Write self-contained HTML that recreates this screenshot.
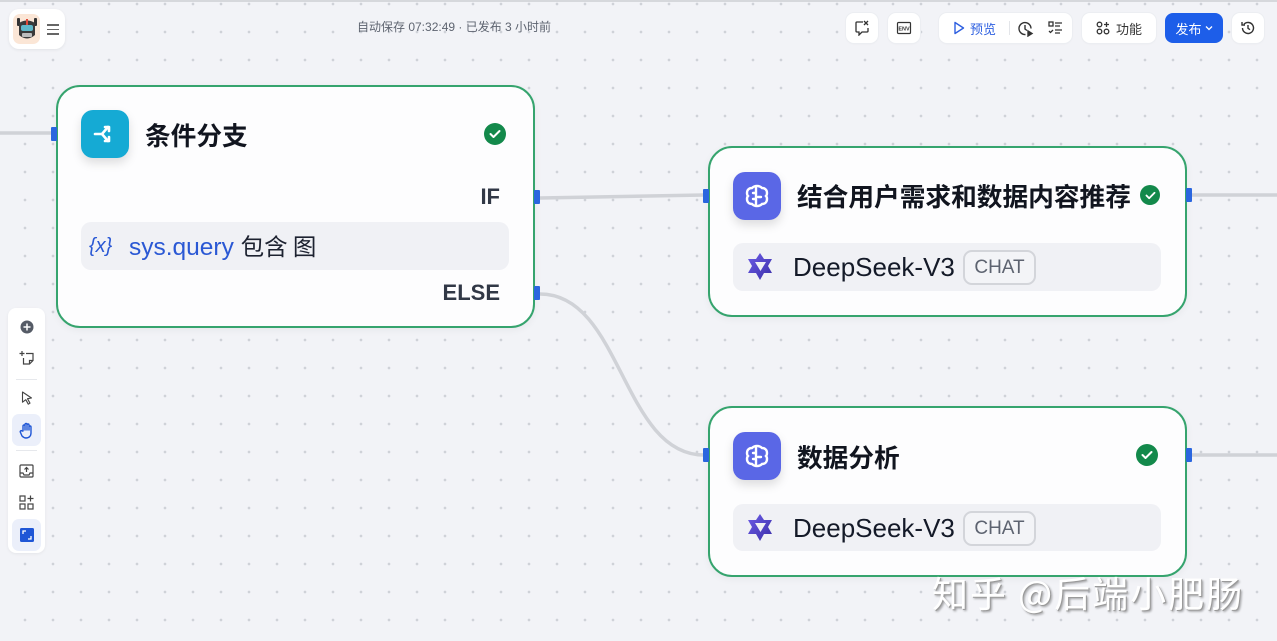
<!DOCTYPE html>
<html><head><meta charset="utf-8">
<style>
*{margin:0;padding:0;box-sizing:border-box}
html,body{width:1277px;height:641px;overflow:hidden}
body{position:relative;background-color:#f2f3f7;
background-image:radial-gradient(circle at center,#cfd2d8 0 1.1px,transparent 1.6px);
background-size:28px 28px;background-position:11px 18px;
font-family:"Liberation Sans","Noto Sans CJK SC",sans-serif;color:#1c2230}
.abs{position:absolute}
.topline{left:0;top:0;width:1277px;height:2px;background:#d6d8dc}
.btn{position:absolute;top:13px;height:30px;background:#fff;border-radius:8px;box-shadow:0 0 0 1px #eceef2,0 1px 2px rgba(0,0,0,.04);display:flex;align-items:center;justify-content:center;font-size:13px;color:#333}
.node{position:absolute;background:#fdfdfe;border:2px solid #36a46e;border-radius:24px;box-shadow:0 2px 8px rgba(0,0,0,.05)}
.icon{position:absolute;width:48px;height:48px;border-radius:12px;box-shadow:0 5px 10px rgba(0,0,0,.13);display:flex;align-items:center;justify-content:center}
.title{position:absolute;font-family:"Noto Sans CJK SC","WenQuanYi Zen Hei",sans-serif;font-weight:700;font-size:25.7px;line-height:30px;color:#11151f;white-space:nowrap}
.check{position:absolute;width:22px;height:22px;border-radius:50%;background:#13894b;display:flex;align-items:center;justify-content:center}
.handle{position:absolute;width:6px;height:14px;background:#2a66df;border-radius:1px}
.box{position:absolute;background:#f0f1f5;border-radius:10px}
.model{position:absolute;font-size:26px;line-height:30px;color:#141a28;white-space:nowrap}
.chat{position:absolute;width:73px;height:35px;border:2px solid #d3d5da;border-radius:9px;font-size:19px;color:#5d6370;display:flex;align-items:center;justify-content:center;background:#f3f4f7}
.lbl{position:absolute;font-weight:700;font-size:22px;color:#313846;right:0;text-align:right}
.tb{position:absolute;left:8px;top:308px;width:37px;height:245px;background:#fff;border-radius:8px;box-shadow:0 1px 3px rgba(0,0,0,.06)}
.ti{position:absolute;left:4px;width:29px;height:29px;display:flex;align-items:center;justify-content:center;border-radius:7px}
</style></head><body>
<div class="abs topline"></div>

<svg class="abs" style="left:0;top:0" width="1277" height="641">
<g fill="none" stroke="#d0d2d7" stroke-width="3.5" stroke-linecap="round">
<path d="M0 133 L52 133"/>
<path d="M540 198 L704 195"/>
<path d="M540 294 C622 294 622 455 704 455"/>
<path d="M1190 195 L1277 195"/>
<path d="M1190 455 L1277 455"/>
</g>
</svg>

<div class="abs" style="left:9px;top:9px;width:56px;height:40px;background:#fff;border-radius:10px;box-shadow:0 1px 3px rgba(0,0,0,.07)"></div>
<div class="abs" style="left:13px;top:14px;width:27px;height:30px;border-radius:7px;background:#fbe6d6"></div>
<svg class="abs" style="left:14px;top:15px" width="26" height="28" viewBox="0 0 26 28">
<rect x="3" y="3" width="3" height="8" rx="1" fill="#333"/><rect x="20" y="3" width="3" height="8" rx="1" fill="#333"/>
<path d="M5 8 Q13 3 21 8 L21 20 Q13 27 5 20Z" fill="#3a3a3a"/>
<rect x="7" y="10" width="12" height="6" rx="2" fill="#5fb8c9"/>
<rect x="12" y="4" width="2" height="6" fill="#e04a3a"/>
<rect x="8" y="18" width="10" height="4" rx="1" fill="#bdbdbd"/>
</svg>
<div class="abs" style="left:47px;top:23px;width:12px;height:12px">
<div style="height:1.5px;background:#666;margin-top:1px"></div><div style="height:1.5px;background:#666;margin-top:3px"></div><div style="height:1.5px;background:#666;margin-top:3px"></div>
</div>

<div class="abs" style="left:357px;top:19px;font-size:12px;line-height:16px;color:#5e6470;white-space:nowrap;font-family:'Liberation Sans','Noto Sans CJK SC',sans-serif">自动保存 07:32:49 · 已发布 3 小时前</div>

<div class="btn" style="left:846px;width:32px">
<svg width="16" height="16" viewBox="0 0 16 16" fill="none" stroke="#333" stroke-width="1.3"><path d="M9 2H3a1 1 0 0 0-1 1v8a1 1 0 0 0 1 1h2v3l3-3h5a1 1 0 0 0 1-1V8"/><path d="M10 1l4 4M14 1l-4 4"/></svg>
</div>
<div class="btn" style="left:888px;width:32px">
<svg width="16" height="16" viewBox="0 0 16 16"><rect x="1.5" y="2.5" width="13" height="11" rx="1" fill="none" stroke="#333" stroke-width="1.2"/><text x="8" y="10.5" font-size="5.5" font-weight="700" text-anchor="middle" fill="#333" font-family="Liberation Sans">ENV</text></svg>
</div>
<div class="btn" style="left:939px;width:133px;justify-content:flex-start">
<svg class="abs" style="left:14px;top:8px" width="12" height="14" viewBox="0 0 12 14"><path d="M2 1.5L10.5 7L2 12.5Z" fill="none" stroke="#2d5fe0" stroke-width="1.4" stroke-linejoin="round"/></svg>
<span class="abs" style="left:31px;top:6px;font-size:13px;color:#2d5fe0;font-family:'Noto Sans CJK SC',sans-serif">预览</span>
<div class="abs" style="left:70px;top:8px;width:1px;height:14px;background:#e3e5e9"></div>
<svg class="abs" style="left:78px;top:7px" width="17" height="17" viewBox="0 0 17 17" fill="none" stroke="#333" stroke-width="1.4"><path d="M14 8.5A6 6 0 1 0 8.5 14.5"/><path d="M8 5v4l2 1.5"/><path d="M11 11l4 2.5-4 2.5z" fill="#333"/></svg>
<svg class="abs" style="left:109px;top:8px" width="15" height="14" viewBox="0 0 15 14" fill="none" stroke="#333" stroke-width="1.3"><rect x="1" y="1" width="4" height="4"/><path d="M7 2h7M7 5h5M7 9h7M7 12h5"/><path d="M1 10l1.5 1.5L5 9"/></svg>
</div>
<div class="btn" style="left:1082px;width:74px">
<svg width="14" height="14" viewBox="0 0 14 14" fill="none" stroke="#333" stroke-width="1.3"><circle cx="3.5" cy="3.5" r="2.3"/><circle cx="3.5" cy="10.5" r="2.3"/><circle cx="10.5" cy="10.5" r="2.3"/><path d="M10.5 1v5M8 3.5h5"/></svg>
<span style="margin-left:6px;font-size:13px;font-family:'Noto Sans CJK SC',sans-serif;color:#333">功能</span>
</div>
<div class="btn" style="left:1165px;width:58px;background:#1d5ee9;box-shadow:none;color:#fff">
<span style="font-size:13px;font-family:'Noto Sans CJK SC',sans-serif">发布</span>
<svg style="margin-left:3px" width="8" height="6" viewBox="0 0 8 6"><path d="M1 1.5L4 4.5L7 1.5" fill="none" stroke="#fff" stroke-width="1.3"/></svg>
</div>
<div class="btn" style="left:1232px;width:32px">
<svg width="16" height="16" viewBox="0 0 16 16" fill="none" stroke="#333" stroke-width="1.4"><path d="M2.5 8A5.5 5.5 0 1 0 4 4.2"/><path d="M2 2v3h3"/><path d="M8 5v3.3l2 1.4"/></svg>
</div>

<!-- Node 1 -->
<div class="node" style="left:56px;top:85px;width:479px;height:243px"></div>
<div class="icon" style="left:81px;top:110px;background:#15aad4">
<svg width="26" height="26" viewBox="0 0 26 26" fill="none" stroke="#fff" stroke-width="2.6" stroke-linecap="round" stroke-linejoin="round"><path d="M3 13h7l6-7"/><path d="M10 13l6 7"/><path d="M13 6h4v4"/><path d="M13 20h4v-4"/></svg>
</div>
<div class="title" style="left:145px;top:120px">条件分支</div>
<div class="check" style="left:484px;top:123px"><svg width="12" height="10" viewBox="0 0 12 10"><path d="M1.5 5l3 3 6-6" fill="none" stroke="#fff" stroke-width="2" stroke-linecap="round" stroke-linejoin="round"/></svg></div>
<div class="abs" style="left:400px;top:184px;width:100px;height:28px"><div class="lbl" style="top:0">IF</div></div>
<div class="box" style="left:81px;top:222px;width:428px;height:48px"></div>
<div class="abs" style="left:89px;top:233px;font-size:20px;line-height:26px;color:#2a58d4;font-style:italic;white-space:nowrap;font-family:'Liberation Sans',sans-serif">{x}</div>
<div class="abs" style="left:129px;top:230px;font-size:24.5px;line-height:30px;color:#2a58d4;white-space:nowrap">sys.query <span style="color:#1d2230;font-family:'Noto Sans CJK SC',sans-serif;font-size:23.5px">包含 图</span></div>
<div class="abs" style="left:400px;top:280px;width:100px;height:28px"><div class="lbl" style="top:0">ELSE</div></div>
<div class="handle" style="left:51px;top:127px"></div>
<div class="handle" style="left:534px;top:190px"></div>
<div class="handle" style="left:534px;top:286px"></div>

<!-- Node 2 -->
<div class="node" style="left:708px;top:146px;width:479px;height:171px"></div>
<div class="icon" style="left:733px;top:172px;background:#5a67e6">
<svg width="28" height="28" viewBox="0 0 28 28" fill="none" stroke="#fff" stroke-width="2.4" stroke-linecap="round"><path d="M14 4c-3 0-4 1-5 2-3 0-5 2-5 5 0 1 0 2 1 3-1 1-1 2-1 3 0 3 2 5 5 5 1 1 2 2 5 2s4-1 5-2c3 0 5-2 5-5 0-1 0-2-1-3 1-1 1-2 1-3 0-3-2-5-5-5-1-1-2-2-5-2z"/><path d="M13 6v16M13 11h-3M15 15h3M13 17h-3"/></svg>
</div>
<div class="title" style="left:797px;top:181px">结合用户需求和数据内容推荐</div>
<div class="check" style="left:1140px;top:185px;width:20px;height:20px"><svg width="11" height="9" viewBox="0 0 12 10"><path d="M1.5 5l3 3 6-6" fill="none" stroke="#fff" stroke-width="2" stroke-linecap="round" stroke-linejoin="round"/></svg></div>
<div class="box" style="left:733px;top:243px;width:428px;height:48px"></div>
<svg class="abs" style="left:744px;top:252px" width="32" height="30" viewBox="0 0 32 30">
<defs><linearGradient id="g1" x1="0" y1="0" x2="1" y2="1"><stop offset="0" stop-color="#6c5ce7"/><stop offset="1" stop-color="#3b2fa8"/></linearGradient></defs>
<path d="M16 1l4 6h8l-4 7 4 7h-8l-4 7-4-7H4l4-7-4-7h8z" fill="url(#g1)"/>
<path d="M11 10h11l-5.5 9z" fill="#f0f1f5"/>
</svg>
<div class="model" style="left:793px;top:252px">DeepSeek-V3</div>
<div class="chat" style="left:963px;top:250px">CHAT</div>
<div class="handle" style="left:703px;top:189px"></div>
<div class="handle" style="left:1186px;top:188px"></div>

<!-- Node 3 -->
<div class="node" style="left:708px;top:406px;width:479px;height:171px"></div>
<div class="icon" style="left:733px;top:432px;background:#5a67e6">
<svg width="28" height="28" viewBox="0 0 28 28" fill="none" stroke="#fff" stroke-width="2.4" stroke-linecap="round"><path d="M14 4c-3 0-4 1-5 2-3 0-5 2-5 5 0 1 0 2 1 3-1 1-1 2-1 3 0 3 2 5 5 5 1 1 2 2 5 2s4-1 5-2c3 0 5-2 5-5 0-1 0-2-1-3 1-1 1-2 1-3 0-3-2-5-5-5-1-1-2-2-5-2z"/><path d="M13 6v16M13 11h-3M15 15h3M13 17h-3"/></svg>
</div>
<div class="title" style="left:797px;top:442px">数据分析</div>
<div class="check" style="left:1136px;top:444px"><svg width="12" height="10" viewBox="0 0 12 10"><path d="M1.5 5l3 3 6-6" fill="none" stroke="#fff" stroke-width="2" stroke-linecap="round" stroke-linejoin="round"/></svg></div>
<div class="box" style="left:733px;top:504px;width:428px;height:47px"></div>
<svg class="abs" style="left:744px;top:513px" width="32" height="30" viewBox="0 0 32 30">
<path d="M16 1l4 6h8l-4 7 4 7h-8l-4 7-4-7H4l4-7-4-7h8z" fill="url(#g1)"/>
<path d="M11 10h11l-5.5 9z" fill="#f0f1f5"/>
</svg>
<div class="model" style="left:793px;top:513px">DeepSeek-V3</div>
<div class="chat" style="left:963px;top:511px">CHAT</div>
<div class="handle" style="left:703px;top:448px"></div>
<div class="handle" style="left:1186px;top:448px"></div>

<!-- left toolbar -->
<div class="tb">
<div class="ti" style="top:4px"><svg width="14" height="14" viewBox="0 0 14 14"><circle cx="7" cy="7" r="6.5" fill="#555b66"/><path d="M7 3.5v7M3.5 7h7" stroke="#fff" stroke-width="1.5"/></svg></div>
<div class="ti" style="top:35px"><svg width="16" height="16" viewBox="0 0 16 16" fill="none" stroke="#444" stroke-width="1.2"><path d="M3 1v5M0.5 3.5h5"/><path d="M7 3.5h7v7l-3.5 3.5H4.5V8"/><path d="M14 10.5h-3.5V14"/></svg></div>
<div class="abs" style="left:8px;top:71px;width:21px;height:1px;background:#e6e8ec"></div>
<div class="ti" style="top:75px"><svg width="12" height="14" viewBox="0 0 12 14"><path d="M1.5 1l9 6-4 .7 2.5 4.5-1.7 1-2.5-4.5-3.3 2.5z" fill="none" stroke="#444" stroke-width="1.1" stroke-linejoin="round"/></svg></div>
<div class="ti" style="top:106px;background:#ebeffa;height:32px"><svg width="16" height="17" viewBox="0 0 16 17" fill="none" stroke="#1f56d6" stroke-width="1.4" stroke-linejoin="round"><path d="M4 9V4a1 1 0 0 1 2 0v4V2.5a1 1 0 0 1 2 0V8V3a1 1 0 0 1 2 0v5V5a1 1 0 0 1 2 0v6c0 3-2 5-5 5-2 0-3-1-4-2L1.5 10.5a1 1 0 0 1 1.5-1.5z"/></svg></div>
<div class="abs" style="left:8px;top:142px;width:21px;height:1px;background:#e6e8ec"></div>
<div class="ti" style="top:148px"><svg width="15" height="14" viewBox="0 0 15 14" fill="none" stroke="#444" stroke-width="1.2"><rect x="1" y="1" width="13" height="12" rx="1"/><path d="M1 9h3l1 2h5l1-2h3"/><path d="M7.5 8V3.5M5.5 5.5l2-2 2 2"/></svg></div>
<div class="ti" style="top:180px"><svg width="15" height="15" viewBox="0 0 15 15" fill="none" stroke="#444" stroke-width="1.2"><rect x="1" y="1" width="5" height="5"/><rect x="1" y="9" width="5" height="5"/><rect x="9" y="9" width="5" height="5"/><path d="M11.5 0.5v6M8.5 3.5h6"/></svg></div>
<div class="ti" style="top:211px;background:#ebeffa;height:32px"><svg width="14" height="14" viewBox="0 0 14 14"><rect width="14" height="14" rx="1.5" fill="#1f56d6"/><path d="M3 6V3h3M11 8v3H8" fill="none" stroke="#fff" stroke-width="1.3"/></svg></div>
</div>

<!-- watermark -->
<div class="abs" style="left:932px;top:571px;font-size:36px;line-height:42px;letter-spacing:2px;color:#fff;font-family:'Noto Sans CJK SC',sans-serif;white-space:nowrap;text-shadow:1px 1px 0 #9a9a9a,2px 2px 2px rgba(0,0,0,.35)">知乎 @后端小肥肠</div>
</body></html>
